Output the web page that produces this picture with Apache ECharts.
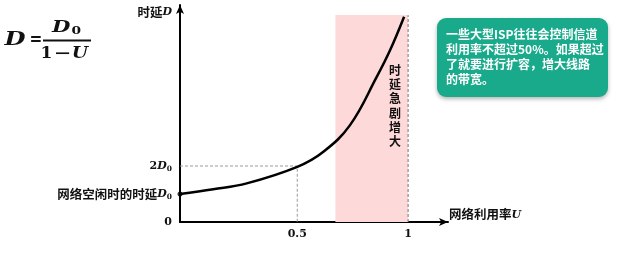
<!DOCTYPE html>
<html><head><meta charset="utf-8">
<script src="https://cdn.jsdelivr.net/npm/echarts@6/dist/echarts.min.js"></script>
<style>html,body{margin:0;padding:0;background:#fff}#c{width:617px;height:254px}</style>
</head><body><div id="c"></div>
<script>
// ---- data ----
const curveU = [-0.029, 0.121, 0.272, 0.5, 0.618, 0.738, 0.859, 0.919, 0.982];
const curveD = [1.0, 1.17, 1.38, 1.97, 2.51, 3.46, 5.19, 6.14, 7.33];
const guideU = [-0.029, 0.5, 0.5];
const guideD = [2, 2, 0];
const limitU = [1, 1];
const limitD = [0, 7.39];
const bandU = [0.672, 1];
const bandD = [0, 7.39];
const xTicks = [0.5, 1];
const yTicks = [0, 1, 2];
const xRange = [-0.029, 1.18];
const yRange = [0, 7.75];
const bandTextPos = [0.941, 4.15];
const bandText = ['时', '延', '急', '剧', '增', '大'];
const noteLines = ['一些大型ISP往往会控制信道', '利用率不超过50%。如果超过', '了就要进行扩容，增大线路', '的带宽。'];

const CJK = '"Noto Sans CJK SC", "Noto Sans", sans-serif';
const SERIF = '"DejaVu Serif", "Liberation Serif", serif';
const zip = (a, b) => a.map((v, i) => [v, b[i]]);

const rich = {
  c: { fontFamily: CJK, fontWeight: 'bold', fontSize: 12.5, color: '#111' },
  d: { fontFamily: SERIF, fontStyle: 'italic', fontWeight: 'bold', fontSize: 11, color: '#111' },
  s: { fontFamily: SERIF, fontWeight: 'bold', fontSize: 7.5, color: '#111', padding: [7, 0, 0, 0] },
  n: { fontFamily: SERIF, fontWeight: 'bold', fontSize: 11, color: '#111' }
};

function ftext(x, y, text, font, sx) {
  return { type: 'text', x: x, y: y, scaleX: sx, style: { text: text, font: font, fill: '#111', align: 'center', verticalAlign: 'middle' } };
}

const chart = echarts.init(document.getElementById('c'));
chart.setOption({
  animation: false,
  grid: { left: 180, right: 169, top: 5, bottom: 32 },
  xAxis: {
    type: 'value', min: xRange[0], max: xRange[1],
    name: '{c|网络利用率}{d|U}', nameLocation: 'end', nameGap: 1,
    nameTextStyle: { align: 'left', verticalAlign: 'bottom', padding: [0, 0, 1, 0], rich: rich },
    axisLine: { onZero: false, lineStyle: { color: '#000', width: 2 }, symbol: ['none', 'arrow'], symbolSize: [6, 9] },
    axisTick: { show: false },
    splitLine: { show: false },
    axisLabel: {
      customValues: xTicks, margin: 7,
      fontFamily: SERIF, fontWeight: 'bold', fontSize: 11, color: '#111',
      formatter: v => String(v)
    }
  },
  yAxis: {
    type: 'value', min: yRange[0], max: yRange[1],
    name: '{c|时延}{d|D}', nameLocation: 'end', nameGap: -7,
    nameTextStyle: { align: 'right', verticalAlign: 'middle', padding: [0, 8, 0, 0], rich: rich },
    axisLine: { onZero: false, lineStyle: { color: '#000', width: 2 }, symbol: ['none', 'arrow'], symbolSize: [6, 9] },
    axisTick: { show: false },
    splitLine: { show: false },
    axisLabel: {
      customValues: yTicks, margin: 8, rich: rich,
      formatter: v => v === 0 ? '{n|0}' : (v === 1 ? '{c|网络空闲时的时延}{d|D}{s|0}' : '{n|2}{d|D}{s|0}')
    }
  },
  series: [
    {
      type: 'line', data: zip(limitU, limitD), symbol: 'none', silent: true, z: 1,
      lineStyle: { color: '#777', width: 1, type: [3, 2] },
      markArea: {
        silent: true,
        itemStyle: { color: 'rgb(253,217,217)' },
        data: [[{ coord: [bandU[0], bandD[1]] }, { coord: [bandU[1], bandD[0]] }]]
      },
      markPoint: {
        symbol: 'rect', symbolSize: 1, itemStyle: { color: 'rgba(0,0,0,0)' },
        label: {
          show: true, position: 'inside', formatter: bandText.join('\n'),
          fontFamily: CJK, fontWeight: 'bold', fontSize: 12, lineHeight: 14.3, color: '#111'
        },
        data: [{ coord: bandTextPos }]
      }
    },
    {
      type: 'line', data: zip(guideU, guideD), symbol: 'none', silent: true, z: 2,
      lineStyle: { color: '#999', width: 1, type: [3, 2] }
    },
    {
      type: 'line', data: zip(curveU, curveD), smooth: 0.4, symbol: 'none', z: 3,
      lineStyle: { color: '#000', width: 2.5 }
    },
    {
      type: 'scatter', data: [[curveU[0], curveD[0]]], symbolSize: 5, z: 4,
      itemStyle: { color: '#000' }
    }
  ],
  graphic: [
    ftext(15, 40, 'D', 'italic bold 18px ' + SERIF, 1.35),
    ftext(36, 40, '=', 'bold 18px ' + SERIF, 0.85),
    { type: 'text', x: 66.5, y: 28, scaleX: 1.25, style: {
        text: '{d|D}{s|0}', align: 'center', verticalAlign: 'middle',
        rich: {
          d: { font: 'italic bold 17px ' + SERIF, fill: '#111' },
          s: { font: 'bold 11px ' + SERIF, fill: '#111', padding: [6, 0, 0, 1] }
        } } },
    { type: 'line', shape: { x1: 43, y1: 40.5, x2: 91, y2: 40.5 }, style: { stroke: '#111', lineWidth: 2 } },
    ftext(46.5, 54, '1', 'bold 17px ' + SERIF, 1),
    ftext(62.5, 54, '−', 'bold 15px ' + SERIF, 1.4),
    ftext(80, 54, 'U', 'italic bold 17px ' + SERIF, 1.1),
    {
      type: 'rect', shape: { x: 437, y: 18, width: 171, height: 79, r: 9 },
      style: { fill: '#19aa8b', shadowBlur: 4, shadowColor: 'rgba(0,0,0,0.3)', shadowOffsetY: 2 }
    },
    {
      type: 'text', x: 446, y: 27.5,
      style: { text: noteLines.join('\n'), font: 'bold 12px ' + CJK, fill: '#fff', lineHeight: 14.7, verticalAlign: 'top', align: 'left' }
    }
  ]
});
</script>
</body></html>
